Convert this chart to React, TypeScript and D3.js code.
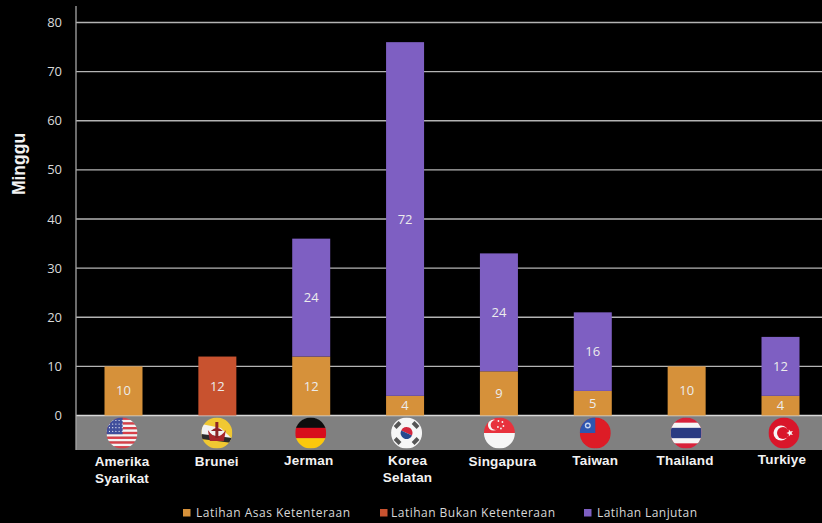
import React from "react";
import * as d3 from "d3";

const W = 822, H = 523;
const categories = ["Amerika Syarikat", "Brunei", "Jerman", "Korea Selatan", "Singapura", "Taiwan", "Thailand", "Turkiye"];
const seriesNames = ["Latihan Asas Ketenteraan", "Latihan Bukan Ketenteraan", "Latihan Lanjutan"];
const asas = [10, 0, 12, 4, 9, 5, 10, 4];
const bukan = [0, 12, 0, 0, 0, 0, 0, 0];
const lanjutan = [0, 0, 24, 72, 24, 16, 0, 12];
const yTicks = [0, 10, 20, 30, 40, 50, 60, 70, 80];
const colors = ["#d6913a", "#c8522f", "#7e5fc2"];

const labelLines: string[][] = [["Amerika", "Syarikat"], ["Brunei"], ["Jerman"], ["Korea", "Selatan"], ["Singapura"], ["Taiwan"], ["Thailand"], ["Turkiye"]];
// hand-placed nudges seen in the reference
const labelDx = [-1.5, -0.5, -2.5, 2.5, 3.5, 2.5, -1.5, 1.5];
const labelDy = [1, 1, 0, 0, 1, 0, 0, -1];
const flagDx = [-1.5, -0.5, -0.5, 1.5, 0.5, 2.5, -0.5, 3.5];

const xc = d3.scalePoint<string>().domain(categories).range([123.5, 780.5]);
const y = d3.scaleLinear().domain([0, 80]).range([415.5, 22.5]);

function Flag({ i, cx }: { i: number; cx: number }) {
  const cy = 433, r = 15.5, id = `clip${i}`;
  const X = cx - r, Y = cy - r, D = 2 * r;
  let body: React.ReactNode = null;
  if (i === 0) {
    const n = 13;
    body = <>
      {d3.range(n).map(k => <rect key={k} x={X} y={Y + k * D / n} width={D} height={D / n + 0.2} fill={k % 2 ? "#f4f4f4" : "#d8404a"} />)}
      <rect x={X} y={Y} width={D * 0.52} height={D * 7 / 13} fill="#3f4f9c" />
      {d3.range(5).map(a => d3.range(4).map(b => <circle key={`${a}-${b}`} cx={X + 3 + a * 3.2} cy={Y + 3 + b * 3.6} r={0.6} fill="#fff" />))}
    </>;
  } else if (i === 1) {
    body = <>
      <rect x={X} y={Y} width={D} height={D} fill="#f0c832" />
      <path d={`M${X},${cy - 9} L${cx + 4},${cy - 5} L${X + D},${cy + 6} L${X + D},${cy + 10} L${X},${cy + 2} Z`} fill="#f2f2f2" />
      <path d={`M${X},${cy + 1} L${X + D},${cy + 5} L${X + D},${cy + 10} L${X},${cy + 6} Z`} fill="#2a2a2a" />
      <path d={`M${cx - 9},${cy - 3} Q${cx},${cy + 10} ${cx + 9},${cy - 3} L${cx + 7},${cy + 8} L${cx - 7},${cy + 8} Z`} fill="#a8262b" />
      <rect x={cx - 1.5} y={cy - 11} width={3} height={16} fill="#8c2226" />
      <path d={`M${cx - 6},${cy - 2} Q${cx},${cy - 8} ${cx + 6},${cy - 2} Z`} fill="#8c2226" />
    </>;
  } else if (i === 2) {
    body = <>
      <rect x={X} y={Y} width={D} height={D / 3 + 0.3} fill="#111" />
      <rect x={X} y={Y + D / 3} width={D} height={D / 3 + 0.3} fill="#d80f1c" />
      <rect x={X} y={Y + 2 * D / 3} width={D} height={D / 3} fill="#fbc80e" />
    </>;
  } else if (i === 3) {
    body = <>
      <rect x={X} y={Y} width={D} height={D} fill="#f6f6f6" />
      <path d={`M${cx - 6},${cy} A6,6 0 0 1 ${cx + 6},${cy} Z`} fill="#d2283c" transform={`rotate(25 ${cx} ${cy})`} />
      <path d={`M${cx - 6},${cy} A6,6 0 0 0 ${cx + 6},${cy} Z`} fill="#26488f" transform={`rotate(25 ${cx} ${cy})`} />
      {[[-9, -8, -45], [9, -8, 45], [-9, 8, 45], [9, 8, -45]].map(([a, b, rot], k) =>
        <rect key={k} x={cx + a - 3.5} y={cy + b - 2} width={7} height={4} fill="#555" transform={`rotate(${rot} ${cx + a} ${cy + b})`} />)}
    </>;
  } else if (i === 4) {
    body = <>
      <rect x={X} y={Y} width={D} height={D / 2} fill="#e8323c" />
      <rect x={X} y={cy} width={D} height={D / 2} fill="#f6f6f6" />
      <circle cx={cx - 6} cy={cy - 8} r={5.5} fill="#f6f6f6" />
      <circle cx={cx - 3.8} cy={cy - 8} r={5} fill="#e8323c" />
      {[[-1, -12], [3, -11], [-1.5, -6], [4, -7], [1.5, -4.5]].map(([a, b], k) => <circle key={k} cx={cx + a} cy={cy + b} r={0.9} fill="#f6f6f6" />)}
    </>;
  } else if (i === 5) {
    body = <>
      <rect x={X} y={Y} width={D} height={D} fill="#dd1a25" />
      <rect x={X} y={Y} width={D / 2} height={D / 2} fill="#2f57b0" />
      <circle cx={cx - 7.5} cy={cy - 7.5} r={3} fill="#c8d4ee" />
      <circle cx={cx - 7.5} cy={cy - 7.5} r={1.6} fill="#2f57b0" />
    </>;
  } else if (i === 6) {
    body = <>
      <rect x={X} y={Y} width={D} height={D} fill="#d8203a" />
      <rect x={X} y={Y + D / 6} width={D} height={D * 2 / 3} fill="#f6f6f6" />
      <rect x={X} y={Y + D / 3} width={D} height={D / 3} fill="#2c3a82" />
    </>;
  } else {
    body = <>
      <rect x={X} y={Y} width={D} height={D} fill="#d9182c" />
      <circle cx={cx - 3} cy={cy} r={7.5} fill="#f6f6f6" />
      <circle cx={cx - 1} cy={cy} r={6} fill="#d9182c" />
      <path d={d3.range(10).map(k => {
        const a = -Math.PI / 2 + k * Math.PI / 5, rr = k % 2 ? 1.5 : 3.6;
        return `${k ? "L" : "M"}${cx + 6 + rr * Math.cos(a)},${cy + rr * Math.sin(a)}`;
      }).join("") + "Z"} fill="#f6f6f6" transform={`rotate(-90 ${cx + 6} ${cy})`} />
    </>;
  }
  return <g filter="url(#soft)">
    <clipPath id={id}><circle cx={cx} cy={cy} r={r} /></clipPath>
    <g clipPath={`url(#${id})`}>{body}</g>
  </g>;
}

export default function App() {
  const stack = [asas, bukan, lanjutan];
  const barW = 38;
  const tickFont = "'Open Sans', sans-serif";
  const boldFont = "'Liberation Sans', Arial, sans-serif";
  const legend = [{ sx: 183, tx: 196 }, { sx: 380, tx: 391 }, { sx: 584, tx: 597 }];
  const legendW = [154, 164, 100];
  return (
    <svg width={W} height={H} viewBox={`0 0 ${W} ${H}`} style={{ position: "absolute", left: 0, top: 0, background: "#000" }}>
      <defs><filter id="soft"><feGaussianBlur stdDeviation="0.4" /></filter></defs>
      <rect x={76} y={416} width={W - 76} height={34} fill="#808080" />
      {yTicks.map(t => <g key={t}>
        <line x1={76} x2={W} y1={y(t)} y2={y(t)} stroke={t === 0 ? "#d8d8d8" : "#b4b4b4"} strokeWidth={1.3} />
        <text x={62} y={y(t) + 4.5} textAnchor="end" fontFamily={tickFont} fontSize={13} fill="#d9d9d9">{t}</text>
      </g>)}
      <line x1={76} x2={76} y1={6} y2={450} stroke="#a6a6a6" strokeWidth={1.3} />
      <text transform="translate(25,164) rotate(-90)" textAnchor="middle" fontFamily={boldFont} fontWeight={700} fontSize={17.5} fill="#f2f2f2">Minggu</text>
      {categories.map((c, i) => {
        const cx = xc(c)!;
        let acc = 0;
        return <g key={c}>
          {stack.map((s, k) => {
            const v = s[i];
            if (!v) return null;
            const y0 = y(acc), y1 = y(acc + v);
            acc += v;
            return <g key={k}>
              <rect x={cx - barW / 2} y={y1} width={barW} height={y0 - y1} fill={colors[k]} />
              <text x={cx} y={(y0 + y1) / 2 + 4.5} textAnchor="middle" fontFamily={tickFont} fontSize={13} fill="#ececec">{v}</text>
            </g>;
          })}
          <Flag i={i} cx={cx + flagDx[i]} />
          <text textAnchor="middle" fontFamily={boldFont} fontWeight={700} fontSize={13.5} fill="#f2f2f2" letterSpacing={0.2}>
            {labelLines[i].map((l, j) => <tspan key={j} x={cx + labelDx[i]} y={465 + labelDy[i] + j * 17}>{l}</tspan>)}
          </text>
        </g>;
      })}
      {seriesNames.map((n, k) => <g key={n}>
        <rect x={legend[k].sx} y={509} width={7.5} height={7.5} fill={colors[k]} />
        <text x={legend[k].tx} y={517} fontFamily={tickFont} fontSize={12} fill="#d9d9d9" textLength={legendW[k]} lengthAdjust="spacing">{n}</text>
      </g>)}
    </svg>
  );
}
